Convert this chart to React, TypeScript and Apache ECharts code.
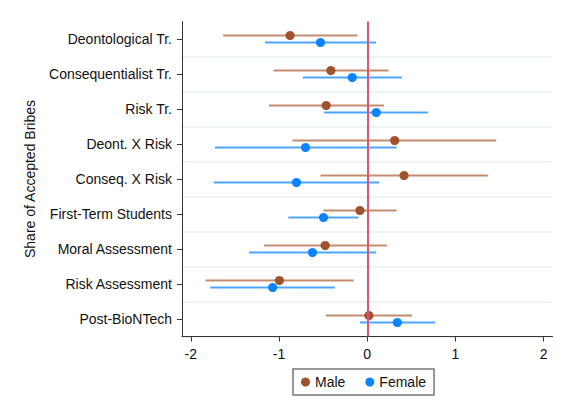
import React, { useEffect, useRef } from "react";
import * as echarts from "echarts";

const categories = [
  "Deontological Tr.",
  "Consequentialist Tr.",
  "Risk Tr.",
  "Deont. X Risk",
  "Conseq. X Risk",
  "First-Term Students",
  "Moral Assessment",
  "Risk Assessment",
  "Post-BioNTech",
];

const maleEst = [-0.875, -0.413, -0.466, 0.311, 0.417, -0.083, -0.477, -0.996, 0.019];
const maleLo = [-1.633, -1.064, -1.114, -0.848, -0.53, -0.496, -1.17, -1.833, -0.47];
const maleHi = [-0.11, 0.242, 0.19, 1.462, 1.367, 0.333, 0.223, -0.155, 0.508];

const femaleEst = [-0.53, -0.17, 0.102, -0.7, -0.803, -0.496, -0.621, -1.072, 0.341];
const femaleLo = [-1.16, -0.731, -0.489, -1.727, -1.739, -0.894, -1.341, -1.78, -0.083];
const femaleHi = [0.099, 0.394, 0.689, 0.333, 0.136, -0.098, 0.102, -0.367, 0.769];

const xTicks = [-2, -1, 0, 1, 2];

const FONT = "'Liberation Sans', Arial, sans-serif";

function makeSeries(
  name: string,
  est: number[],
  lo: number[],
  hi: number[],
  dotColor: string,
  barColor: string,
  dy: number
) {
  return {
    name,
    type: "custom",
    itemStyle: { color: dotColor },
    encode: { x: [0, 2, 3], y: 1 },
    data: est.map((v, i) => [v, i, lo[i], hi[i]]),
    renderItem: (params: any, api: any) => {
      const c = api.coord([api.value(0), api.value(1)]);
      const l = api.coord([api.value(2), api.value(1)]);
      const h = api.coord([api.value(3), api.value(1)]);
      return {
        type: "group",
        children: [
          {
            type: "line",
            shape: { x1: l[0], y1: l[1] + dy, x2: h[0], y2: h[1] + dy },
            style: { stroke: barColor, lineWidth: 2 },
          },
          {
            type: "circle",
            shape: { cx: c[0], cy: c[1] + dy, r: 4.6 },
            style: { fill: dotColor },
          },
        ],
      };
    },
  };
}

export default function App() {
  const ref = useRef<HTMLDivElement>(null);
  useEffect(() => {
    document.body.style.margin = "0";
    if (!ref.current) return;
    const chart = echarts.init(ref.current, null, { renderer: "svg" });
    const splitColors = categories.map(() => "#e9eff1");
    splitColors.unshift("rgba(0,0,0,0)");
    const male = makeSeries("Male", maleEst, maleLo, maleHi, "#a0522d", "#c38c71", -3.5);
    const female = makeSeries("Female", femaleEst, femaleLo, femaleHi, "#0a84ff", "#4ea5ff", 3.5);
    (female as any).markLine = {
      silent: true,
      symbol: "none",
      label: { show: false },
      lineStyle: { color: "#d9576e", width: 2, type: "solid" },
      data: [{ xAxis: 0 }],
      z: 10,
    };
    chart.setOption({
      animation: false,
      textStyle: { fontFamily: FONT },
      grid: { left: 182, right: 8.5, top: 21.5, bottom: 71.5, containLabel: false },
      xAxis: {
        type: "value",
        min: -2.1,
        max: 2.1,
        axisLine: { show: true, onZero: false, lineStyle: { color: "#333", width: 1 } },
        axisTick: { show: true, length: 5, customValues: xTicks, lineStyle: { color: "#333" } },
        axisLabel: {
          customValues: xTicks,
          margin: 10,
          fontSize: 14,
          color: "#111",
          fontFamily: FONT,
        },
        splitLine: { show: false },
      },
      yAxis: {
        type: "category",
        inverse: true,
        data: categories,
        name: "Share of Accepted Bribes",
        nameLocation: "middle",
        nameGap: 145,
        nameTextStyle: { fontSize: 14, color: "#111", fontFamily: FONT },
        axisLine: { show: true, onZero: false, lineStyle: { color: "#333", width: 1 } },
        axisTick: { show: true, alignWithLabel: true, length: 5, lineStyle: { color: "#333" } },
        axisLabel: { margin: 10, fontSize: 14, color: "#111", fontFamily: FONT },
        splitLine: { show: true, lineStyle: { color: splitColors, width: 1.5 } },
      },
      legend: {
        left: 293,
        top: 369,
        data: [
          { name: "Male", icon: "circle" },
          { name: "Female", icon: "circle" },
        ],
        itemWidth: 9,
        itemHeight: 9,
        itemGap: 20,
        padding: [6, 8, 6, 8],
        borderColor: "#777",
        borderWidth: 1.5,
        textStyle: { fontSize: 14, color: "#111", fontFamily: FONT },
      },
      series: [male, female],
    });
    return () => chart.dispose();
  }, []);
  return <div ref={ref} style={{ width: 561, height: 408 }} />;
}
